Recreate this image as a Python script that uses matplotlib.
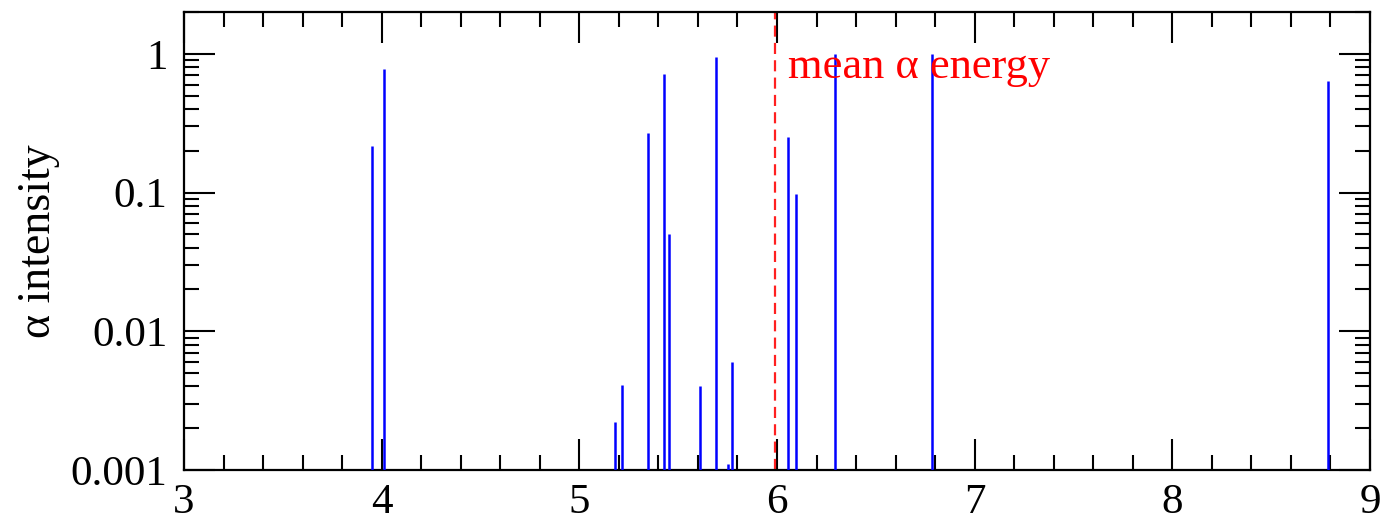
import numpy as np
import matplotlib
matplotlib.use('Agg')
import matplotlib.pyplot as plt
from matplotlib.ticker import MultipleLocator, LogLocator, FixedLocator, FixedFormatter, NullFormatter

# alpha line energies (MeV) and relative intensities
energies = [3.95, 4.01, 5.18, 5.215, 5.345, 5.428, 5.453, 5.612, 5.691,
            5.752, 5.772, 6.057, 6.098, 6.295, 6.786, 8.785]
intensities = [0.217, 0.775, 0.0022, 0.0041, 0.27, 0.713, 0.050, 0.0040, 0.95,
               0.0011, 0.0060, 0.252, 0.097, 1.0, 1.0, 0.638]
mean_energy = 5.99

y_ticks = [0.001, 0.01, 0.1, 1]
y_tick_labels = ['0.001', '0.01', '0.1', '1']

plt.rcParams['font.family'] = ['Liberation Serif', 'DejaVu Serif']
plt.rcParams['font.size'] = 31

fig = plt.figure(figsize=(13.81, 5.26), dpi=100)
ax = fig.add_axes([184 / 1381, 1 - 470 / 526, (1370 - 184) / 1381, (470 - 12) / 526])

ax.vlines(energies, 1e-3, intensities, colors='#0000ff', linewidth=1.8, zorder=3)
ax.axvline(mean_energy, color='#ff2020', linestyle=(0, (5, 2.8)), linewidth=1.6, zorder=2)
ax.text(6.054, 0.67, 'mean α energy', color='#ff0000', fontsize=32, va='baseline', ha='left')

ax.set_xlim(3, 9)
ax.set_yscale('log')
ax.set_ylim(0.001, 2)

ax.xaxis.set_major_locator(MultipleLocator(1))
ax.xaxis.set_minor_locator(MultipleLocator(0.2))
ax.yaxis.set_major_locator(FixedLocator(y_ticks))
ax.yaxis.set_major_formatter(FixedFormatter(y_tick_labels))
ax.yaxis.set_minor_locator(LogLocator(base=10, subs=np.arange(2, 10)))
ax.yaxis.set_minor_formatter(NullFormatter())

ax.tick_params(which='both', direction='in', top=True, right=True, width=1.5, colors='black')
ax.tick_params(which='major', length=22, pad=12)
ax.tick_params(which='minor', length=11)
ax.tick_params(axis='x', which='major', pad=10)
for s in ax.spines.values():
    s.set_linewidth(1.6)

# y label placed by hand, baseline at x ~ 50 px
fig.text(50 / 1381, 1 - 241 / 526, 'α intensity', fontsize=33, rotation=90,
         rotation_mode='anchor', ha='center', va='baseline')

fig.savefig('out.png', dpi=100)
